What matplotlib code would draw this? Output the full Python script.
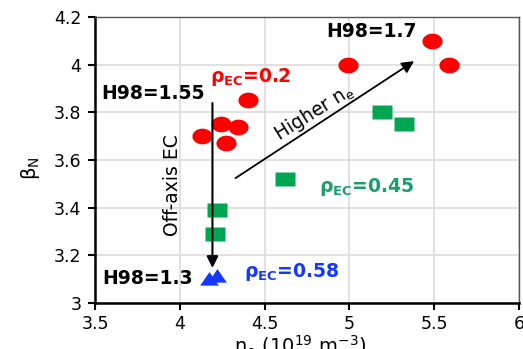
import matplotlib
matplotlib.use('Agg')
import matplotlib.pyplot as plt
from matplotlib.path import Path
import numpy as np

# density (1e19 m^-3) and beta_N for each EC deposition radius
ne_02 = [4.13, 4.24, 4.34, 4.27, 4.40, 4.99, 5.49, 5.59]
bn_02 = [3.70, 3.75, 3.74, 3.67, 3.85, 4.00, 4.10, 4.00]

ne_045 = [5.19, 5.32, 4.62, 4.22, 4.21]
bn_045 = [3.80, 3.75, 3.52, 3.39, 3.29]

ne_058 = [4.17, 4.22]
bn_058 = [3.095, 3.11]

xticks = [3.5, 4, 4.5, 5, 5.5, 6]
xticklabels = ['3.5', '4', '4.5', '5', '5.5', '6']
yticks = [3, 3.2, 3.4, 3.6, 3.8, 4, 4.2]
yticklabels = ['3', '3.2', '3.4', '3.6', '3.8', '4', '4.2']

RED = '#ff0000'
GREEN = '#00a651'
GREEN_TXT = '#1a9e6e'
BLUE = '#1438ff'

# slightly wide marker shapes
t = np.linspace(0, 2 * np.pi, 60)
ellipse = Path(np.column_stack([np.cos(t), 0.78 * np.sin(t)]))
rect = Path([(-1, -0.72), (1, -0.72), (1, 0.72), (-1, 0.72), (-1, -0.72)],
            [Path.MOVETO, Path.LINETO, Path.LINETO, Path.LINETO, Path.CLOSEPOLY])
tri = Path([(-1, -0.55), (1, -0.55), (0, 0.9), (-1, -0.55)],
           [Path.MOVETO, Path.LINETO, Path.LINETO, Path.CLOSEPOLY])

fig = plt.figure(figsize=(5.23, 3.49), dpi=100)
ax = fig.add_axes([0.182, 0.132, 0.81, 0.819])

ax.plot(ne_02, bn_02, marker=ellipse, ls='none', color=RED, ms=14.5, mec='none', zorder=3)
ax.plot(ne_045, bn_045, marker=rect, ls='none', color=GREEN, ms=15, mec='none', zorder=3)
ax.plot(ne_058, bn_058, marker=tri, ls='none', color=BLUE, ms=13.5, mec='none', zorder=3)

ax.set_xlim(3.5, 6)
ax.set_ylim(3, 4.2)
ax.set_xticks(xticks)
ax.set_xticklabels(xticklabels)
ax.set_yticks(yticks)
ax.set_yticklabels(yticklabels)
ax.tick_params(labelsize=12.5, length=5, width=1.5, direction='out')
ax.tick_params(axis='x', pad=4)
ax.tick_params(axis='y', pad=5)
ax.grid(True, color='#dedede', lw=1.3)
ax.set_axisbelow(True)

for s in ['left', 'bottom']:
    ax.spines[s].set_linewidth(1.8)
for s in ['top', 'right']:
    ax.spines[s].set_color('#555555')
    ax.spines[s].set_linewidth(1)

ax.set_ylabel(r'β$_\mathrm{N}$', fontsize=14)
ax.yaxis.set_label_coords(-0.125, 0.47)
ax.set_xlabel(r'n$_\mathrm{e}$ (10$^{19}$ m$^{-3}$)', fontsize=14)
ax.xaxis.set_label_coords(0.483, -0.108)

# arrows
ax.annotate('', xy=(4.192, 3.147), xytext=(4.192, 3.839),
            arrowprops=dict(arrowstyle='-|>', color='black', lw=1.5,
                            mutation_scale=17, shrinkA=0, shrinkB=0))
ax.annotate('', xy=(5.382, 4.015), xytext=(4.328, 3.524),
            arrowprops=dict(arrowstyle='-|>', color='black', lw=1.3,
                            mutation_scale=18, shrinkA=0, shrinkB=0))

ax.text(3.956, 3.495, 'Off-axis EC', rotation=90, ha='center', va='center', fontsize=13.5)
ax.text(4.79, 3.80, r'Higher n$_\mathrm{e}$', rotation=32, ha='center', va='center',
        fontsize=13.5)

bold = dict(fontsize=13.5, fontweight='bold', va='baseline', ha='left')
ax.text(3.536, 3.856, 'H98=1.55', **bold)
ax.text(4.861, 4.116, 'H98=1.7', **bold)
ax.text(3.541, 3.080, 'H98=1.3', **bold)

ax.text(4.18, 3.927, r'ρ$_\mathbf{EC}$=0.2', color=RED, **bold)
ax.text(4.82, 3.466, r'ρ$_\mathbf{EC}$=0.45', color=GREEN_TXT, **bold)
ax.text(4.376, 3.109, r'ρ$_\mathbf{EC}$=0.58', color=BLUE, **bold)

fig.savefig('out.png', dpi=100)
